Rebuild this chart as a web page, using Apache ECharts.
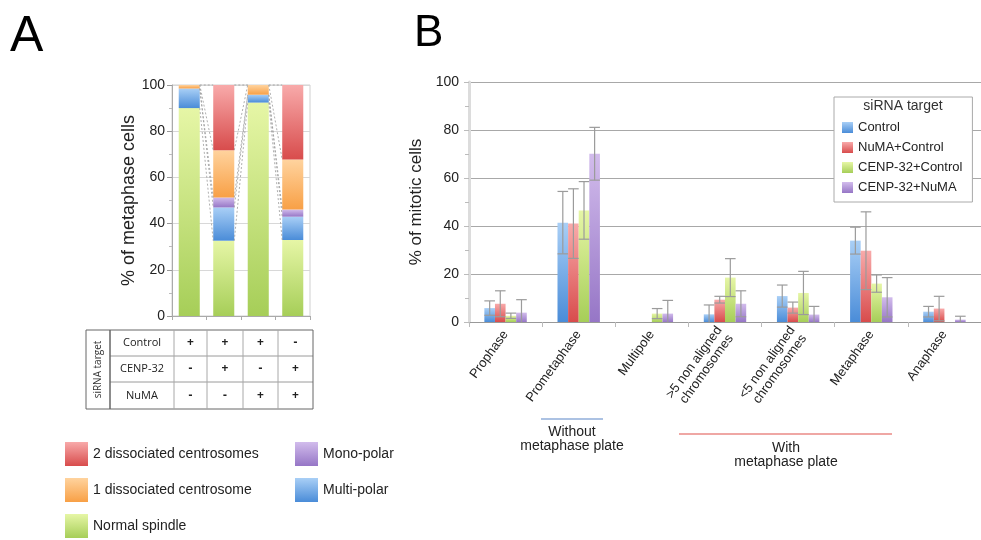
<!DOCTYPE html>
<html>
<head>
<meta charset="utf-8">
<script src="https://cdn.jsdelivr.net/npm/echarts@6/dist/echarts.min.js"></script>
<style>
html,body{margin:0;padding:0;background:#fff;}
#main{width:981px;height:540px;}
</style>
</head>
<body>
<div id="main"></div>
<script>
// ---------- Panel A data ----------
const aCategories = ['1', '2', '3', '4'];
const aNormal = [90.0, 32.6, 92.4, 32.9];
const aMulti = [8.5, 14.4, 3.4, 10.1];
const aMono = [0.0, 4.3, 0.0, 3.1];
const aOne = [1.5, 20.5, 4.2, 21.6];
const aTwo = [0.0, 28.2, 0.0, 32.3];
const aYTicks = [0, 20, 40, 60, 80, 100];
const tableRows = ['Control', 'CENP-32', 'NuMA'];
const tableControl = ['+', '+', '+', '-'];
const tableCenp = ['-', '+', '-', '+'];
const tableNuma = ['-', '-', '+', '+'];

// ---------- Panel B data ----------
const bCategories = ['Prophase', 'Prometaphase', 'Multipole', '>5 non aligned\nchromosomes', '<5 non aligned\nchromosomes', 'Metaphase', 'Anaphase'];
const bControl = [5.8, 41.4, 0, 3.2, 10.8, 33.9, 4.3];
const bControlErr = [3.0, 13.0, 0, 3.9, 4.6, 5.6, 2.2];
const bNumaControl = [7.6, 41.0, 0, 9.3, 6.0, 29.7, 5.6];
const bNumaControlErr = [5.4, 14.5, 0, 1.4, 2.3, 16.2, 5.1];
const bCenpControl = [2.6, 46.5, 3.5, 18.5, 12.1, 16.0, 0];
const bCenpControlErr = [1.1, 12.0, 2.1, 7.9, 9.0, 3.6, 0];
const bCenpNuma = [3.9, 70.1, 3.5, 7.6, 3.1, 10.3, 1.0];
const bCenpNumaErr = [5.4, 11.0, 5.5, 5.4, 3.4, 8.2, 1.4];
const bYTicks = [0, 20, 40, 60, 80, 100];

const FONT = 'Liberation Sans, Arial, sans-serif';
function grad(top, bottom) {
  return new echarts.graphic.LinearGradient(0, 0, 0, 1, [
    { offset: 0, color: top }, { offset: 1, color: bottom }
  ]);
}
const C = {
  green: grad('#e6f6a6', '#a6ce58'),
  blue: grad('#a9cff6', '#4a8cd8'),
  purple: grad('#d2bcec', '#9676c6'),
  orange: grad('#ffd39e', '#f8a046'),
  red: grad('#f8aaaa', '#d84c4c')
};

const chart = echarts.init(document.getElementById('main'), null, { renderer: 'canvas' });

// ---------- Panel A stacked series ----------
const aSeriesDefs = [
  { name: 'Normal spindle', data: aNormal, color: C.green },
  { name: 'Multi-polar', data: aMulti, color: C.blue },
  { name: 'Mono-polar', data: aMono, color: C.purple },
  { name: '1 dissociated centrosome', data: aOne, color: C.orange },
  { name: '2 dissociated centrosomes', data: aTwo, color: C.red }
];
const A_BAR_FRAC = 0.61;
const aSeries = aSeriesDefs.map(d => ({
  type: 'bar', name: d.name, stack: 'a', data: d.data,
  xAxisIndex: 0, yAxisIndex: 0,
  barWidth: (A_BAR_FRAC * 100) + '%',
  itemStyle: { color: d.color },
  emphasis: { disabled: true },
  silent: true
}));

// cumulative tops for series lines
const aCum = aCategories.map((_, i) => {
  let s = 0;
  return aSeriesDefs.map(d => (s += d.data[i]));
});
const seriesLines = {
  type: 'custom', xAxisIndex: 0, yAxisIndex: 0, silent: true, z: 5,
  data: [[0], [1], [2]],
  renderItem: function (params, api) {
    const i = api.value(0);
    const bw = api.size([1, 0])[0] * A_BAR_FRAC;
    const children = aCum[i].map((v, k) => {
      const p1 = api.coord([i, v]);
      const p2 = api.coord([i + 1, aCum[i + 1][k]]);
      return {
        type: 'line',
        shape: { x1: p1[0] + bw / 2, y1: p1[1], x2: p2[0] - bw / 2, y2: p2[1] },
        style: { stroke: '#9a9a9a', lineWidth: 0.8, lineDash: [2, 2] }
      };
    });
    return { type: 'group', children: children };
  }
};

// ---------- Panel B grouped bars ----------
const bSeriesDefs = [
  { name: 'Control', data: bControl, err: bControlErr, color: C.blue },
  { name: 'NuMA+Control', data: bNumaControl, err: bNumaControlErr, color: C.red },
  { name: 'CENP-32+Control', data: bCenpControl, err: bCenpControlErr, color: C.green },
  { name: 'CENP-32+NuMA', data: bCenpNuma, err: bCenpNumaErr, color: C.purple }
];
const B_GAP = 0.42;
const bSeries = bSeriesDefs.map(d => ({
  type: 'bar', name: d.name, data: d.data,
  xAxisIndex: 1, yAxisIndex: 1,
  barGap: '0%', barCategoryGap: (B_GAP * 100) + '%',
  itemStyle: { color: d.color },
  emphasis: { disabled: true },
  silent: true
}));
const errData = [];
bSeriesDefs.forEach((d, s) => {
  d.data.forEach((v, c) => { if (d.err[c] > 0) errData.push([c, v, d.err[c], s]); });
});
const errSeries = {
  type: 'custom', xAxisIndex: 1, yAxisIndex: 1, silent: true, z: 10,
  data: errData,
  renderItem: function (params, api) {
    const c = api.value(0), v = api.value(1), e = api.value(2), s = api.value(3);
    const band = api.size([1, 0])[0];
    const gw = band * (1 - B_GAP);
    const bw = gw / 4;
    const cx = api.coord([c, v])[0] - gw / 2 + bw * (s + 0.5);
    const yTop = api.coord([c, v + e])[1];
    const yBot = api.coord([c, Math.max(0, v - e)])[1];
    const half = bw / 2;
    const st = { stroke: '#9b9b9b', lineWidth: 1.2 };
    const kids = [
      { type: 'line', shape: { x1: cx, y1: yTop, x2: cx, y2: yBot }, style: st },
      { type: 'line', shape: { x1: cx - half, y1: yTop, x2: cx + half, y2: yTop }, style: st }
    ];
    if (v - e > 0) kids.push({ type: 'line', shape: { x1: cx - half, y1: yBot, x2: cx + half, y2: yBot }, style: st });
    return { type: 'group', children: kids };
  }
};

// ---------- Table graphics (panel A) ----------
const colX = [86, 110, 174, 207, 243, 278, 313];
const rowY = [330, 356, 382, 409];
const tblGraphics = [];
rowY.forEach((y, k) => tblGraphics.push({
  type: 'line', shape: { x1: (k === 0 || k === rowY.length - 1) ? colX[0] : colX[1], y1: y, x2: colX[colX.length - 1], y2: y },
  style: { stroke: (k === 0 || k === rowY.length - 1) ? '#666' : '#9a9a9a', lineWidth: 1 }
}));
colX.forEach((x, k) => tblGraphics.push({
  type: 'line', shape: { x1: x, y1: rowY[0], x2: x, y2: rowY[rowY.length - 1] },
  style: { stroke: (k === 0 || k === 1 || k === colX.length - 1) ? '#666' : '#a8a8a8', lineWidth: (k === 1 ? 1.5 : 1) }
}));
tblGraphics.push({
  type: 'text', x: 98, y: (rowY[0] + rowY[3]) / 2, rotation: Math.PI / 2,
  style: { text: 'siRNA target', font: '10px "Open Sans", sans-serif', fill: '#333', align: 'center', verticalAlign: 'middle' }
});
const signRows = [tableControl, tableCenp, tableNuma];
tableRows.forEach((r, k) => {
  const yc = (rowY[k] + rowY[k + 1]) / 2;
  tblGraphics.push({
    type: 'text', x: (colX[1] + colX[2]) / 2, y: yc,
    style: { text: r, font: '11px "Open Sans", sans-serif', fill: '#222', align: 'center', verticalAlign: 'middle' }
  });
  signRows[k].forEach((sgn, j) => {
    tblGraphics.push({
      type: 'text', x: (colX[j + 2] + colX[j + 3]) / 2, y: yc,
      style: { text: sgn, font: 'bold 12px "Open Sans", sans-serif', fill: '#222', align: 'center', verticalAlign: 'middle' }
    });
  });
});

// ---------- Panel B group annotations ----------
const annot = [
  { type: 'line', shape: { x1: 541, y1: 419, x2: 603, y2: 419 }, style: { stroke: '#5b86c8', lineWidth: 1.2 } },
  { type: 'text', x: 572, y: 425, style: { text: 'Without\nmetaphase plate', font: '14px ' + FONT, fill: '#222', align: 'center', verticalAlign: 'top', lineHeight: 14 } },
  { type: 'line', shape: { x1: 679, y1: 434, x2: 892, y2: 434 }, style: { stroke: '#e0504a', lineWidth: 1.2 } },
  { type: 'text', x: 786, y: 441, style: { text: 'With\nmetaphase plate', font: '14px ' + FONT, fill: '#222', align: 'center', verticalAlign: 'top', lineHeight: 14 } },
  { type: 'text', x: 10, y: 12, style: { text: 'A', font: '50px ' + FONT, fill: '#000' } },
  { type: 'text', x: 414, y: 12, style: { text: 'B', font: '44px ' + FONT, fill: '#000' } },
  { type: 'text', x: 903, y: 106, z: 200, style: { text: 'siRNA target', font: '14px ' + FONT, fill: '#333', align: 'center', verticalAlign: 'middle' } }
];

const option = {
  animation: false,
  backgroundColor: '#fff',
  textStyle: { fontFamily: FONT },
  grid: [
    { left: 172, top: 85, width: 138, height: 231, show: true, borderColor: '#d0d0d0', borderWidth: 1, backgroundColor: 'transparent' },
    { left: 469, top: 82, width: 519, height: 240 }
  ],
  xAxis: [
    {
      type: 'category', gridIndex: 0, data: aCategories,
      axisLine: { lineStyle: { color: '#aaa' } },
      axisTick: { show: true, length: 4, lineStyle: { color: '#aaa' } },
      axisLabel: { show: false }
    },
    {
      type: 'category', gridIndex: 1, data: bCategories,
      axisLine: { lineStyle: { color: '#999', width: 1 } },
      axisTick: { show: true, length: 5, lineStyle: { color: '#bbb' } },
      axisLabel: { rotate: 54, fontSize: 13, color: '#222', margin: 10, lineHeight: 14, interval: 0, fontFamily: FONT }
    }
  ],
  yAxis: [
    {
      type: 'value', gridIndex: 0, min: aYTicks[0], max: aYTicks[aYTicks.length - 1], interval: 20,
      name: '% of metaphase cells', nameLocation: 'middle', nameGap: 33,
      nameTextStyle: { fontSize: 18, color: '#222', fontFamily: FONT },
      axisLine: { show: true, lineStyle: { color: '#aaa' } },
      axisTick: { show: true, length: 5, lineStyle: { color: '#999' } },
      minorTick: { show: true, splitNumber: 2, length: 3, lineStyle: { color: '#bbb' } },
      axisLabel: { fontSize: 14, color: '#222', margin: 7 },
      splitLine: { show: true, lineStyle: { color: '#d8d8d8' } }
    },
    {
      type: 'value', gridIndex: 1, min: bYTicks[0], max: bYTicks[bYTicks.length - 1], interval: 20,
      name: '% of mitotic cells', nameLocation: 'middle', nameGap: 30,
      nameTextStyle: { fontSize: 17, color: '#222', fontFamily: FONT },
      axisLine: { show: true, lineStyle: { color: '#dcdcdc', width: 3 } },
      axisTick: { show: true, length: 5, lineStyle: { color: '#bbb' } },
      minorTick: { show: true, splitNumber: 2, length: 4, lineStyle: { color: '#bbb' } },
      axisLabel: { fontSize: 14, color: '#222', margin: 10 },
      splitLine: { show: true, lineStyle: { color: '#a8a8a8' } }
    }
  ],
  legend: [
    {
      left: 65, top: 442, orient: 'vertical', itemWidth: 23, itemHeight: 24, itemGap: 12,
      icon: 'rect', selectedMode: false, padding: 0, height: 100,
      data: ['2 dissociated centrosomes', '1 dissociated centrosome', 'Normal spindle'],
      textStyle: { fontSize: 14, color: '#222', fontFamily: FONT }
    },
    {
      left: 295, top: 442, orient: 'vertical', itemWidth: 23, itemHeight: 24, itemGap: 12,
      icon: 'rect', selectedMode: false, padding: 0,
      data: ['Mono-polar', 'Multi-polar'],
      textStyle: { fontSize: 14, color: '#222', fontFamily: FONT }
    },
    {
      left: 834, top: 97, orient: 'vertical', itemWidth: 11, itemHeight: 11, itemGap: 7,
      icon: 'rect', selectedMode: false,
      padding: [24, 10, 8, 8],
      borderColor: '#aaa', borderWidth: 1, backgroundColor: '#fff',
      data: ['Control', 'NuMA+Control', 'CENP-32+Control', 'CENP-32+NuMA'],
      textStyle: { fontSize: 13, color: '#222', fontFamily: FONT }
    }
  ],
  graphic: tblGraphics.concat(annot),
  series: aSeries.concat([seriesLines]).concat(bSeries).concat([errSeries])
};
chart.setOption(option);
</script>
</body>
</html>
